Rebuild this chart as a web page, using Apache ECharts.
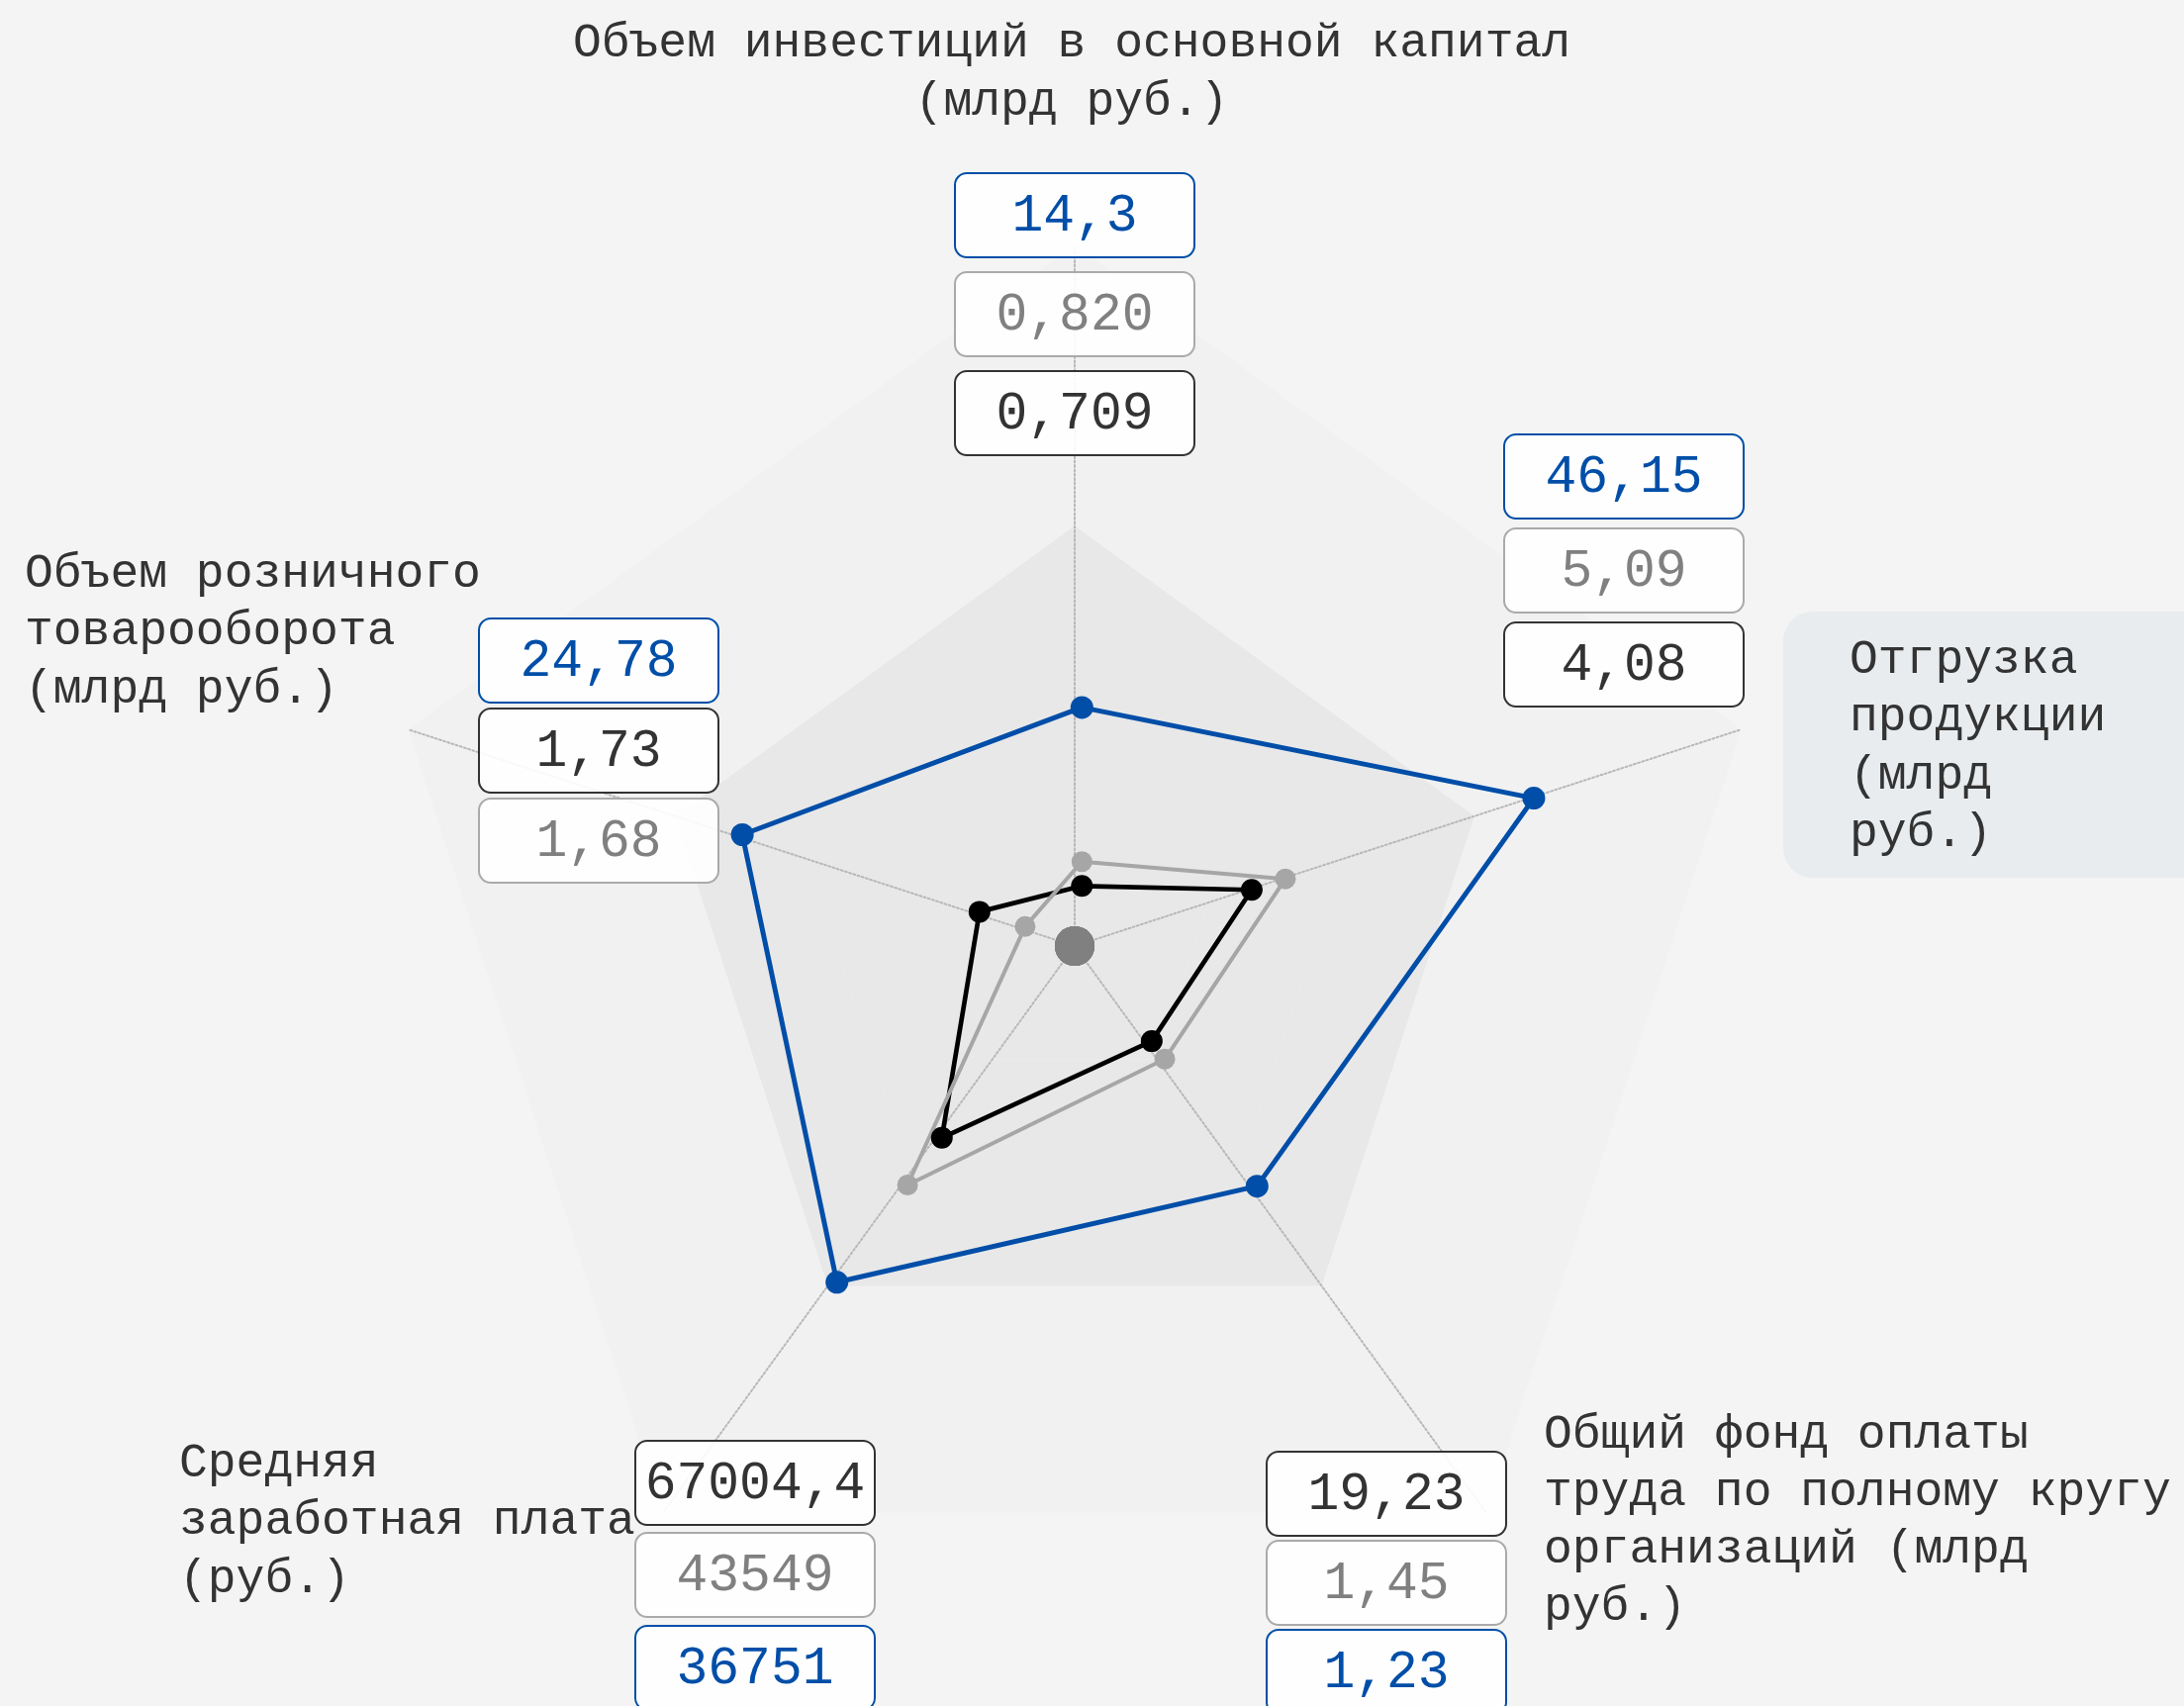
<!DOCTYPE html>
<html>
<head>
<meta charset="utf-8">
<script src="https://cdn.jsdelivr.net/npm/echarts@6/dist/echarts.min.js"></script>
<style>
html,body{margin:0;padding:0;background:#f3f4f3;}
#c{width:2207px;height:1724px;}
</style>
</head>
<body>
<div id="c"></div>
<script>
// ---- data (indicator order as ECharts lays it out: top, then counter-clockwise) ----
const indicatorNames = [
  'Объем инвестиций в основной капитал\n(млрд руб.)',
  'Объем розничного\nтоварооборота\n(млрд руб.)',
  'Средняя\nзаработная плата\n(руб.)',
  'Общий фонд оплаты\nтруда по полному кругу\nорганизаций (млрд\nруб.)',
  'Отгрузка\nпродукции\n(млрд\nруб.)'
];
const seriesNames = ['Ряд 1', 'Ряд 2', 'Ряд 3'];
// plotted positions (share of the radius, %)
const blueScore  = [34.2, 51.4, 60.0, 42.9, 68.4];
const grayScore  = [12.0, 8.6, 42.7, 20.3, 30.8];
const blackScore = [8.5, 15.5, 34.3, 17.1, 25.7];
// values printed in the boxes
const blueValues  = ['14,3', '24,78', '36751', '1,23', '46,15'];
const grayValues  = ['0,820', '1,68', '43549', '1,45', '5,09'];
const blackValues = ['0,709', '1,73', '67004,4', '19,23', '4,08'];

// ---- styles / layout ----
const FONT = '"Liberation Mono", Cousine, monospace';
const BLUE = '#004ea8', GRAY = '#a6a6a6', BLACK = '#000000';
const seriesStyle = [
  {box: BLUE, text: BLUE},
  {box: '#aaaaaa', text: '#808080'},
  {box: '#333333', text: '#333333'}
];
const valueSets = [blueValues, grayValues, blackValues];
const boxLayout = [
  {x: 965, tops: [175, 275, 375]},
  {x: 484, tops: [625, 716, 807]},
  {x: 642, tops: [1456, 1549, 1643]},
  {x: 1280, tops: [1467, 1557, 1647]},
  {x: 1520, tops: [439, 534, 629]}
];
const BOX_W = 242, BOX_H = 85;
const nameLayout = [
  {x: 1083, y: 15, align: 'center', lh: 59},
  {x: 25, y: 551, align: 'left', lh: 58.5},
  {x: 181, y: 1450, align: 'left', lh: 58.5},
  {x: 1560, y: 1421, align: 'left', lh: 58},
  {x: 1869, y: 638, align: 'left', lh: 58.5}
];

const parseNum = s => parseFloat(s.replace(',', '.'));

const graphics = [];
// background box of the shipment axis name
graphics.push({type: 'rect', z: 50, silent: true,
  shape: {x: 1802, y: 618, width: 460, height: 269, r: 30},
  style: {fill: '#e8ecef'}});
indicatorNames.forEach((n, i) => {
  const L = nameLayout[i];
  graphics.push({type: 'text', z: 60, silent: true, x: L.x, y: L.y,
    style: {text: n, font: '48px ' + FONT, fill: '#333333',
      textAlign: L.align, align: L.align, textVerticalAlign: 'top', verticalAlign: 'top',
      lineHeight: L.lh}});
});
indicatorNames.forEach((n, i) => {
  const order = [0, 1, 2].map(s => ({s, v: parseNum(valueSets[s][i])}))
    .sort((a, b) => b.v - a.v);
  const B = boxLayout[i];
  order.forEach((o, k) => {
    const st = seriesStyle[o.s];
    const top = B.tops[k];
    graphics.push({type: 'rect', z: 100, silent: true,
      shape: {x: B.x, y: top, width: BOX_W, height: BOX_H, r: 12},
      style: {fill: 'rgba(255,255,255,0.9)', stroke: st.box, lineWidth: 2}});
    graphics.push({type: 'text', z: 101, silent: true,
      x: B.x + BOX_W / 2, y: top + BOX_H / 2 + 1,
      style: {text: valueSets[o.s][i], font: '53px ' + FONT, fill: st.text,
        textAlign: 'center', align: 'center', textVerticalAlign: 'middle', verticalAlign: 'middle'}});
  });
});

const indicator = indicatorNames.map(n => ({name: n, min: 0, max: 100}));

const chart = echarts.init(document.getElementById('c'), null, {renderer: 'canvas'});
chart.setOption({
  backgroundColor: '#f3f4f3',
  animation: false,
  radar: [
    {
      center: [1086, 956], radius: 708, startAngle: 90, splitNumber: 5, shape: 'polygon',
      indicator: indicator,
      axisName: {show: false},
      axisLine: {show: true, lineStyle: {color: '#b8b8b8', width: 2, type: [2, 2.4]}},
      axisTick: {show: false}, axisLabel: {show: false},
      splitLine: {show: false},
      splitArea: {show: true, areaStyle: {color: ['#e8e8e8', '#e8e8e8', '#e8e8e8', '#f1f1f1', '#f1f1f1']}}
    },
    {
      center: [1093.3, 955], radius: 702, startAngle: 90, splitNumber: 5, shape: 'polygon',
      indicator: indicator,
      axisName: {show: false},
      axisLine: {show: false}, axisTick: {show: false}, axisLabel: {show: false},
      splitLine: {show: false}, splitArea: {show: false}
    }
  ],
  series: [
    {type: 'radar', radarIndex: 0, silent: true, symbol: 'circle', symbolSize: 40,
      lineStyle: {width: 0, opacity: 0}, itemStyle: {color: '#808080'},
      data: [{value: [0, 0, 0, 0, 0], name: 'центр'}]},
    {type: 'radar', radarIndex: 1, silent: true, symbol: 'circle', symbolSize: 23,
      lineStyle: {color: BLUE, width: 5}, itemStyle: {color: BLUE},
      data: [{value: blueScore, name: seriesNames[0]}]},
    {type: 'radar', radarIndex: 1, silent: true, symbol: 'circle', symbolSize: 22,
      lineStyle: {color: BLACK, width: 4.7}, itemStyle: {color: BLACK},
      data: [{value: blackScore, name: seriesNames[2]}]},
    {type: 'radar', radarIndex: 1, silent: true, symbol: 'circle', symbolSize: 21,
      lineStyle: {color: GRAY, width: 4}, itemStyle: {color: GRAY},
      data: [{value: grayScore, name: seriesNames[1]}]}
  ],
  graphic: graphics
});
</script>
</body>
</html>
